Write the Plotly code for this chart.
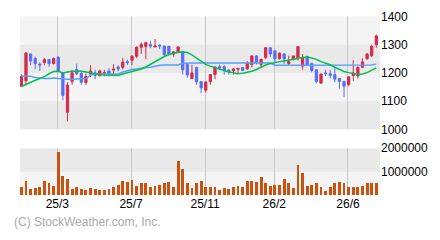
import plotly.graph_objects as go

# ---- data (weekly candles) ----
opens = [1153,1172,1267,1251,1231,1237,1247,1233,1256,1200,
         1061,1170,1212,1198,1166,1196,1200,1190,1198,1207,
         1210,1221,1220,1240,1245,1259,1291,1294,1300,1292,
         1298,1295,1294,1267,1272,1276,1230,1180,1219,1169,
         1139,1169,1194,1222,1222,1210,1208,1213,1219,1214,
         1230,1260,1230,1254,1289,1278,1250,1267,1233,1248,
         1250,1224,1258,1233,1211,1164,1200,1197,1194,1180,
         1170,1159,1191,1189,1220,1250,1261,1300]
highs = [1196,1274,1268,1258,1238,1253,1250,1255,1258,1203,
         1167,1211,1233,1206,1198,1227,1211,1211,1211,1216,
         1231,1227,1253,1247,1263,1294,1308,1311,1313,1320,
         1302,1297,1296,1278,1294,1278,1233,1229,1222,1172,
         1170,1196,1222,1230,1228,1213,1217,1216,1221,1242,
         1262,1263,1250,1291,1291,1280,1272,1270,1261,1261,
         1294,1267,1261,1237,1213,1197,1211,1211,1222,1181,
         1172,1189,1245,1222,1252,1270,1300,1336]
lows = [1150,1156,1228,1213,1207,1227,1222,1230,1203,1103,
        1028,1158,1192,1158,1158,1185,1178,1188,1188,1187,
        1194,1206,1213,1228,1228,1252,1267,1249,1287,1290,
        1284,1259,1262,1258,1270,1194,1183,1178,1158,1128,
        1130,1158,1178,1211,1194,1194,1194,1197,1206,1211,
        1220,1230,1218,1250,1256,1233,1248,1231,1225,1244,
        1244,1211,1226,1202,1163,1161,1189,1180,1167,1144,
        1114,1153,1172,1180,1217,1247,1256,1289]
closes = [1187,1270,1242,1233,1228,1247,1233,1251,1206,1120,
          1157,1200,1197,1167,1187,1207,1191,1207,1201,1198,
          1213,1214,1238,1236,1259,1291,1301,1307,1295,1295,
          1295,1265,1267,1275,1292,1211,1193,1200,1168,1147,
          1168,1194,1221,1217,1208,1203,1214,1216,1209,1236,
          1260,1237,1248,1289,1267,1250,1270,1250,1240,1260,
          1293,1256,1228,1209,1170,1196,1197,1191,1178,1170,
          1153,1186,1200,1220,1239,1267,1294,1331]
ma_short = [1152,1160,1167,1174,1180,1187,1197,1205,1206,1200,
            1203,1206,1206,1206,1203,1200,1196,1194,1193,1192,
            1191,1191,1196,1200,1205,1208,1214,1221,1230,1240,
            1250,1258,1265,1270,1273,1274,1272,1264,1252,1240,
            1230,1224,1218,1214,1208,1203,1199,1197,1199,1202,
            1206,1212,1220,1228,1233,1237,1240,1242,1244,1248,
            1252,1255,1256,1253,1248,1240,1234,1229,1220,1212,
            1205,1201,1197,1194,1196,1201,1210,1218]
ma_long = [1189,1189,1188,1184,1181,1180,1180,1182,1180,1178,
           1178,1178,1178,1178,1180,1192,1196,1196,1196,1196,
           1196,1196,1203,1208,1212,1214,1217,1219,1220,1224,
           1227,1228,1228,1228,1228,1234,1235,1235,1235,1235,
           1235,1235,1235,1235,1235,1235,1235,1235,1235,1235,
           1235,1235,1235,1235,1235,1227,1227,1227,1227,1227,
           1227,1227,1227,1227,1227,1227,1227,1227,1227,1227,
           1227,1227,1227,1227,1227,1227,1228,1232]
volumes = [333e3,600e3,240e3,293e3,333e3,600e3,493e3,400e3,1840e3,800e3,
           693e3,240e3,333e3,240e3,200e3,293e3,240e3,200e3,200e3,240e3,
           333e3,440e3,600e3,560e3,640e3,400e3,493e3,507e3,333e3,373e3,
           440e3,533e3,560e3,360e3,1440e3,1093e3,493e3,293e3,493e3,600e3,
           333e3,333e3,333e3,200e3,293e3,240e3,333e3,400e3,333e3,600e3,
           600e3,560e3,773e3,493e3,400e3,440e3,440e3,693e3,533e3,293e3,
           1293e3,933e3,400e3,440e3,533e3,333e3,173e3,360e3,533e3,573e3,
           493e3,360e3,360e3,333e3,400e3,493e3,533e3,533e3]
idx = list(range(len(closes)))
tick_pos = [7.8, 23.8, 39.85, 54.85, 70.85]
tick_labels = ["25/3", "25/7", "25/11", "26/2", "26/6"]
price_ticks = [1000, 1100, 1200, 1300, 1400]
vol_ticks = [1000000, 2000000]
vol_tick_labels = ["1000000", "2000000"]

RED = "#d42a4c"
BLUE = "#5a6ef0"
FONT = "Arial, Liberation Sans, sans-serif"

fig = go.Figure()
fig.add_trace(go.Candlestick(
    x=idx, open=opens, high=highs, low=lows, close=closes,
    increasing=dict(line=dict(color=RED, width=1), fillcolor=RED),
    decreasing=dict(line=dict(color=BLUE, width=1), fillcolor=BLUE),
    whiskerwidth=0, xaxis="x", yaxis="y", showlegend=False, hoverinfo="skip"))
fig.add_trace(go.Scatter(x=idx, y=ma_long, mode="lines",
                         line=dict(color="#55a0ff", width=1.5),
                         xaxis="x", yaxis="y", showlegend=False))
fig.add_trace(go.Scatter(x=idx, y=ma_short, mode="lines",
                         line=dict(color="#00c050", width=1.5),
                         xaxis="x", yaxis="y", showlegend=False))
fig.add_trace(go.Bar(x=idx, y=volumes, width=0.62, marker=dict(color="#c8520e", line=dict(width=0)),
                     xaxis="x2", yaxis="y2", showlegend=False))

xcommon = dict(range=[-0.3, 77.8], tickvals=tick_pos, showgrid=True,
               gridcolor="#c8c8c8", gridwidth=1, zeroline=False, showline=False,
               ticks="", fixedrange=True)
fig.update_layout(
    width=440, height=240,
    margin=dict(l=0, r=0, t=0, b=0),
    paper_bgcolor="white", plot_bgcolor="#f4f4f4",
    font=dict(family=FONT, size=11, color="black"),
    bargap=0,
    xaxis=dict(domain=[20/440, 380/440], anchor="y", showticklabels=False,
               rangeslider=dict(visible=False), **xcommon),
    yaxis=dict(domain=[110/240, 230/240], range=[1000, 1400], side="right",
               tickvals=price_ticks, showgrid=False, zeroline=False, ticks="",
               anchor="x", tickfont=dict(size=12), fixedrange=True),
    xaxis2=dict(domain=[20/440, 380/440], anchor="y2", ticktext=tick_labels,
                tickfont=dict(size=12), **xcommon),
    yaxis2=dict(domain=[40/240, 90/240], range=[0, 2000000], side="right",
                tickvals=vol_ticks, ticktext=vol_tick_labels, showgrid=False,
                zeroline=False, ticks="", anchor="x2", tickfont=dict(size=12),
                fixedrange=True),
    shapes=[
        dict(type="rect", xref="x domain", yref="y", x0=0, x1=1, y0=1200, y1=1300,
             fillcolor="#e9e9e9", line=dict(width=0), layer="below"),
        dict(type="rect", xref="x domain", yref="y", x0=0, x1=1, y0=1000, y1=1100,
             fillcolor="#e9e9e9", line=dict(width=0), layer="below"),
        dict(type="rect", xref="x2 domain", yref="y2", x0=0, x1=1, y0=1000000, y1=2000000,
             fillcolor="#e9e9e9", line=dict(width=0), layer="below"),
    ],
    annotations=[dict(text="(C) StockWeather.com, Inc.", xref="paper", yref="paper",
                      x=12/440, y=1-228/240, xanchor="left", yanchor="middle",
                      showarrow=False, font=dict(size=12, color="#a8a8a8", family=FONT))],
)
fig.write_html("out.html")
